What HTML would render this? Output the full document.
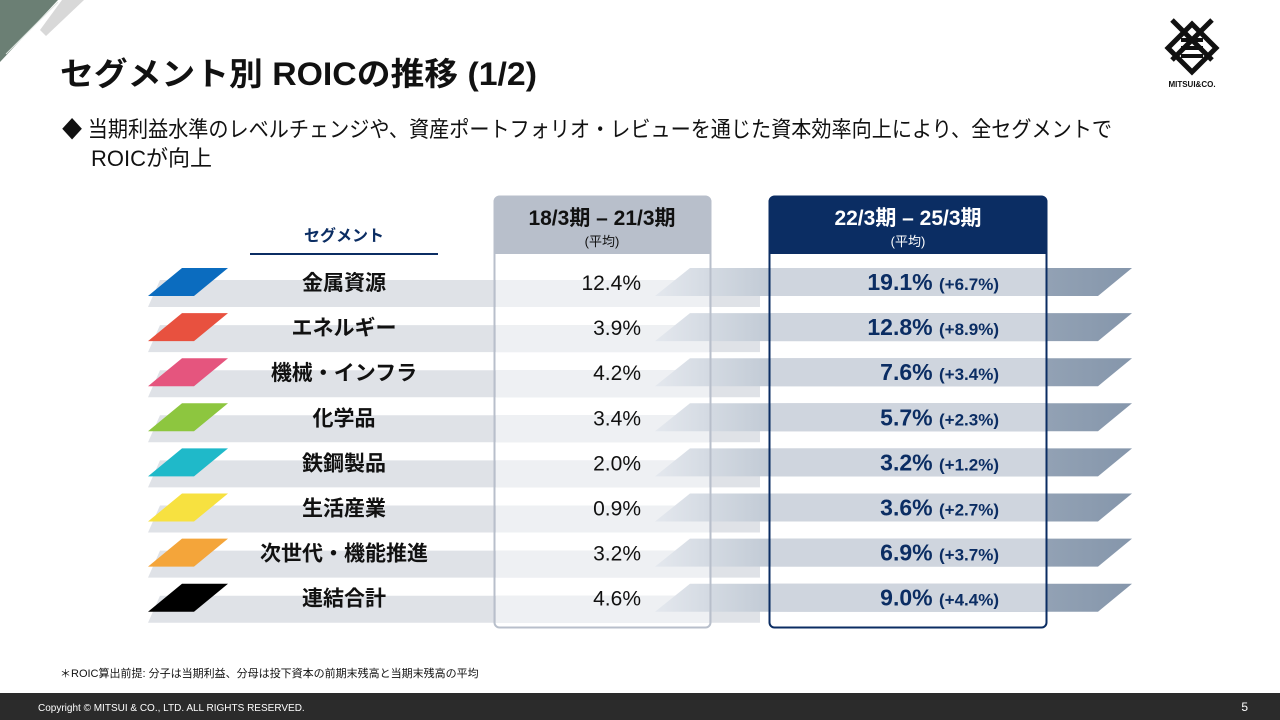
<!DOCTYPE html>
<html><head><meta charset="utf-8">
<style>
body{margin:0;width:1280px;height:720px;overflow:hidden;background:#fff;font-family:"Liberation Sans","Noto Sans CJK JP",sans-serif;}
svg{position:absolute;left:0;top:0}
</style></head>
<body>
<svg id="s" width="1280" height="720">
<defs>
<linearGradient id="rg" x1="0" x2="1" y1="0" y2="0">
<stop offset="0" stop-color="#e4e8ee"/><stop offset="0.3" stop-color="#b9c3cf"/><stop offset="1" stop-color="#8596ab"/>
</linearGradient>
</defs>
<polygon points="0,0 58,0 0,62" fill="#6b7f74"/>
<polygon points="62,0 84,0 46,36 40,30" fill="#d8d8d8"/>
<line x1="6" y1="54" x2="58" y2="2" stroke="#dfe7e2" stroke-width="1"/>
<text x="60" y="85" font-size="32" font-weight="bold" fill="#111" textLength="477" lengthAdjust="spacingAndGlyphs">セグメント別 ROICの推移 (1/2)</text>
<text x="62" y="137" font-size="22" fill="#111" textLength="1050" lengthAdjust="spacingAndGlyphs">◆ 当期利益水準のレベルチェンジや、資産ポートフォリオ・レビューを通じた資本効率向上により、全セグメントで</text>
<text x="91" y="166" font-size="22" fill="#111">ROICが向上</text>
<g>
<g stroke="#111" stroke-width="5" fill="none">
<polygon points="1192,24 1216,48 1192,72 1168,48"/>
<line x1="1172" y1="20" x2="1212" y2="60"/><line x1="1212" y1="20" x2="1172" y2="60"/>
</g>
<rect x="1181" y="38" width="22" height="4" fill="#111"/><rect x="1181" y="46" width="22" height="4" fill="#111"/><rect x="1181" y="54" width="22" height="4" fill="#111"/>
<text x="1192" y="87" font-size="8" font-weight="bold" text-anchor="middle" fill="#111">MITSUI&amp;CO.</text>
</g>
<g id="rows"></g>
<rect x="494.5" y="196.5" width="216" height="431" rx="5" fill="none" stroke="#b8bfcb" stroke-width="2"/>
<path d="M494.5,254 V201.5 a5,5 0 0 1 5,-5 H705.5 a5,5 0 0 1 5,5 V254 Z" fill="#b8bfcb"/>
<text x="602" y="225" font-size="21" font-weight="bold" text-anchor="middle" fill="#111">18/3期 – 21/3期</text>
<text x="602" y="246" font-size="13" text-anchor="middle" fill="#111">(平均)</text>
<rect x="769.5" y="196.5" width="277" height="431" rx="5" fill="none" stroke="#0b2d63" stroke-width="2"/>
<path d="M769.5,254 V201.5 a5,5 0 0 1 5,-5 H1041.5 a5,5 0 0 1 5,5 V254 Z" fill="#0b2d63"/>
<text x="908" y="225" font-size="21" font-weight="bold" text-anchor="middle" fill="#fff">22/3期 – 25/3期</text>
<text x="908" y="246" font-size="13" text-anchor="middle" fill="#fff">(平均)</text>
<text x="344" y="241" font-size="16" font-weight="bold" text-anchor="middle" fill="#0b2d63">セグメント</text>
<line x1="250" y1="254" x2="438" y2="254" stroke="#0b2d63" stroke-width="2"/>
<text x="60" y="677" font-size="11" fill="#111">＊ROIC算出前提: 分子は当期利益、分母は投下資本の前期末残高と当期末残高の平均</text>
<rect x="0" y="693" width="1280" height="27" fill="#2b2b2b"/>
<text x="38" y="711" font-size="10" fill="#fff">Copyright © MITSUI &amp; CO., LTD. ALL RIGHTS RESERVED.</text>
<text x="1248" y="711" font-size="12" fill="#fff" text-anchor="end">5</text>
</svg>
<script>
const segments=["金属資源","エネルギー","機械・インフラ","化学品","鉄鋼製品","生活産業","次世代・機能推進","連結合計"];
const prevRoic=[12.4,3.9,4.2,3.4,2.0,0.9,3.2,4.6];
const newRoic=[19.1,12.8,7.6,5.7,3.2,3.6,6.9,9.0];
const diffRoic=[6.7,8.9,3.4,2.3,1.2,2.7,3.7,4.4];
const colors=["#0b6cbf","#e8513f","#e5557e","#8dc63f","#1fb9c9","#f7e140","#f4a53a","#000"];
const NS="http://www.w3.org/2000/svg",g=document.getElementById('rows');
function mk(t,a,txt){const e=document.createElementNS(NS,t);for(const k in a)e.setAttribute(k,a[k]);if(txt!==undefined)e.textContent=txt;g.appendChild(e);return e;}
const y0=282,dy=45.1;
segments.forEach((s,i)=>{
 const y=y0+i*dy;
 const band=mk('polygon',{points:`${160},${y-2} ${760},${y-2} ${760},${y+25} ${148},${y+25}`,fill:'#dfe2e7'});
 
 
 mk('rect',{x:496,y:y-2,width:213,height:27,fill:'#eef0f3'});
 const rb=mk('polygon',{points:`${690},${y-14} ${1132},${y-14} ${1098},${y+14} ${655},${y+14}`,fill:'url(#rg)'});
 
 
 mk('rect',{x:771,y:y-14,width:275,height:28,fill:'#cfd5de'});
 const sw=mk('polygon',{points:`${182},${y-14} ${228},${y-14} ${194},${y+14} ${148},${y+14}`,fill:colors[i]});
 
 
 const lb=mk('text',{x:344,y:y+8,'font-size':21,'font-weight':'bold','text-anchor':'middle',fill:'#111'},s);
 
 
 const pv=mk('text',{x:641,y:y+8,'font-size':21,'text-anchor':'end',fill:'#111'},prevRoic[i].toFixed(1)+'%');
 
 
 const nv=mk('text',{x:999,y:y+8,'text-anchor':'end',fill:'#0b2d63','font-weight':'bold'});
 
 
 const t1=document.createElementNS(NS,'tspan');t1.setAttribute('font-size','23');t1.textContent=newRoic[i].toFixed(1)+'% ';nv.appendChild(t1);
 const t2=document.createElementNS(NS,'tspan');t2.setAttribute('font-size','17');t2.textContent='(+'+diffRoic[i].toFixed(1)+'%)';nv.appendChild(t2);
});
</script>
</body></html>
